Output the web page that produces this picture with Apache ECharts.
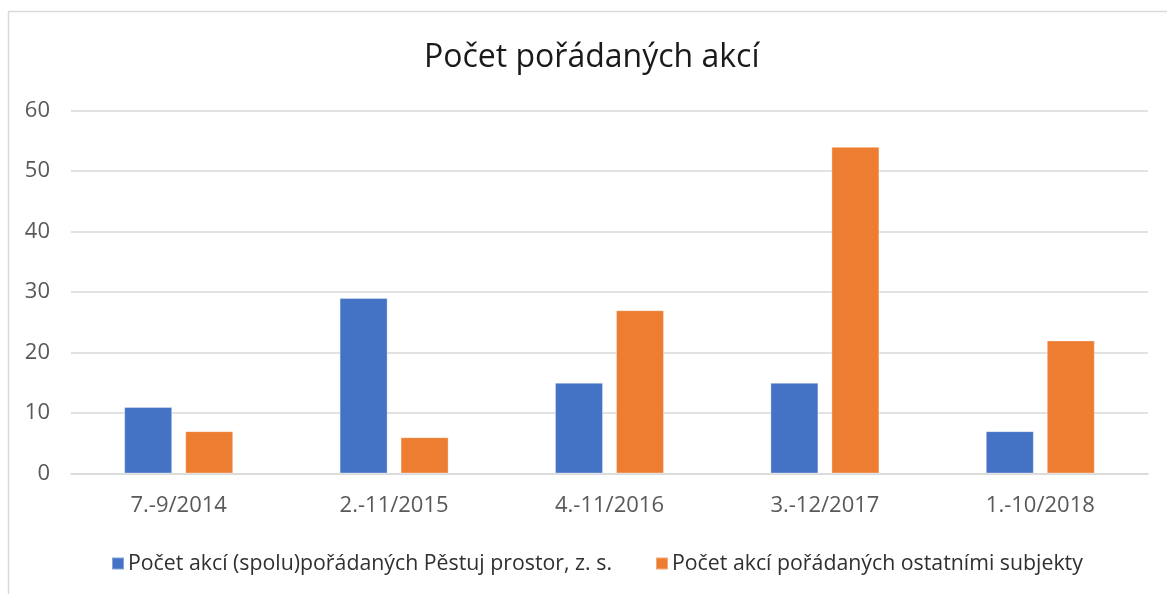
<!DOCTYPE html>
<html>
<head>
<meta charset="utf-8">
<script src="https://cdn.jsdelivr.net/npm/echarts@6/dist/echarts.min.js"></script>
<style>
html,body{margin:0;padding:0;background:#fff;}
#chart{width:1167px;height:594px;}
</style>
</head>
<body>
<div id="chart"></div>
<script>
const title = 'Počet pořádaných akcí';
const categories = ['7.-9/2014', '2.-11/2015', '4.-11/2016', '3.-12/2017', '1.-10/2018'];
const seriesNames = ['Počet akcí (spolu)pořádaných Pěstuj prostor, z. s.', 'Počet akcí pořádaných ostatními subjekty'];
const seriesA = [11, 29, 15, 15, 7];
const seriesB = [7, 6, 27, 54, 22];
const yTicks = [0, 10, 20, 30, 40, 50, 60];

const FONT = 'Open Sans';
const chart = echarts.init(document.getElementById('chart'), null, {renderer: 'canvas'});
chart.setOption({
  animation: false,
  backgroundColor: '#fff',
  graphic: [{
    type: 'rect', left: 6, top: 9,
    shape: {width: 1300, height: 700},
    style: {fill: 'none', stroke: '#d9d9d9', lineWidth: 1.5},
    silent: true, z: -1
  }],
  title: {
    text: title, left: 419, top: 37,
    textStyle: {fontFamily: FONT, fontSize: 32, fontWeight: 'normal', color: '#1a1a1a'}
  },
  legend: {
    left: 106, top: 548,
    itemWidth: 12, itemHeight: 12, itemGap: 43,
    icon: 'rect',
    textStyle: {fontFamily: FONT, fontSize: 21.3, color: '#303030', padding: [0, 0, 0, -1]},
    data: seriesNames
  },
  grid: {left: 71, right: 19, top: 110.5, bottom: 120.5, containLabel: false},
  xAxis: {
    type: 'category', data: categories,
    axisLine: {lineStyle: {color: '#d9d9d9', width: 1.5}},
    axisTick: {show: false},
    axisLabel: {fontFamily: FONT, fontSize: 22, color: '#595959', margin: 21}
  },
  yAxis: {
    type: 'value', min: yTicks[0], max: yTicks[yTicks.length - 1], interval: 10,
    axisLine: {show: false}, axisTick: {show: false},
    splitLine: {lineStyle: {color: '#d9d9d9', width: 1.5}},
    axisLabel: {fontFamily: FONT, fontSize: 22, color: '#595959', margin: 21}
  },
  series: [
    {name: seriesNames[0], type: 'bar', data: seriesA, barWidth: '22.3%', barGap: '27%',
     itemStyle: {color: '#4472C4', borderColor: 'rgba(255,255,255,0.35)', borderWidth: 1}},
    {name: seriesNames[1], type: 'bar', data: seriesB, barWidth: '22.3%',
     itemStyle: {color: '#ED7D31', borderColor: 'rgba(255,255,255,0.35)', borderWidth: 1}}
  ]
});
</script>
</body>
</html>
